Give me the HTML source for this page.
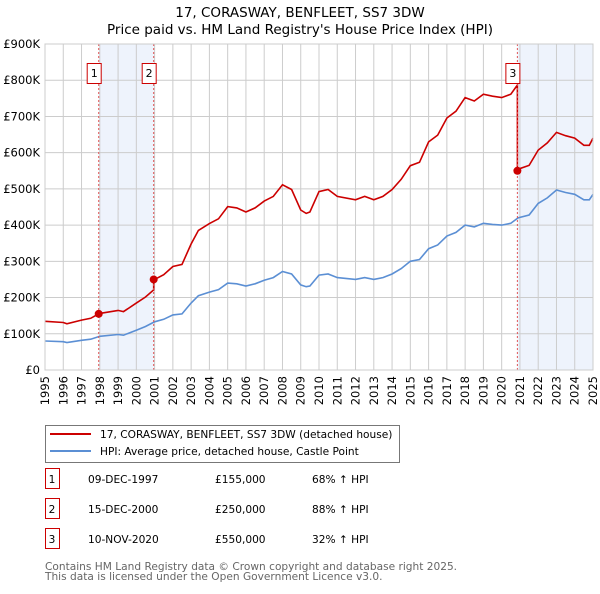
<!DOCTYPE html>
<html><head><meta charset="utf-8"><style>
body{margin:0;background:#fff;font-family:"DejaVu Sans","Liberation Sans",sans-serif;}
svg text{font-family:"DejaVu Sans","Liberation Sans",sans-serif;}
</style></head><body>
<svg id="chart" width="600" height="590" viewBox="0 0 600 590" xmlns="http://www.w3.org/2000/svg">
<text x="300" y="17" text-anchor="middle" font-size="13.5">17, CORASWAY, BENFLEET, SS7 3DW</text>
<text x="300" y="34" text-anchor="middle" font-size="13.5">Price paid vs. HM Land Registry's House Price Index (HPI)</text>
<g id="plot"></g>
<g>
<rect x="45.5" y="425.5" width="354" height="37" fill="#fff" stroke="#777"/>
<line x1="50" y1="434" x2="91" y2="434" stroke="#cc0000" stroke-width="2"/>
<text x="100" y="438" font-size="10.6">17, CORASWAY, BENFLEET, SS7 3DW (detached house)</text>
<line x1="50" y1="451" x2="91" y2="451" stroke="#5b8fd4" stroke-width="2"/>
<text x="100" y="455" font-size="10.6">HPI: Average price, detached house, Castle Point</text>
</g>
<g id="table" font-size="10.6"></g>
<text x="45" y="570" font-size="10.6" fill="#666">Contains HM Land Registry data © Crown copyright and database right 2025.</text>
<text x="45" y="580" font-size="10.6" fill="#666">This data is licensed under the Open Government Licence v3.0.</text>
</svg>
<script>
const hpiYears=[1995,1996,1996.2,1997,1997.5,1998,1999,1999.3,2000,2000.5,2001,2001.5,2002,2002.5,2003,2003.4,2004,2004.5,2005,2005.5,2006,2006.5,2007,2007.5,2008,2008.5,2009,2009.3,2009.5,2010,2010.5,2011,2012,2012.5,2013,2013.5,2014,2014.5,2015,2015.5,2016,2016.5,2017,2017.5,2018,2018.5,2019,2019.5,2020,2020.5,2020.9,2021.5,2022,2022.5,2023,2023.5,2024,2024.5,2024.8,2025];
const hpiValues=[80,78,76,82,85,93,98,96,110,120,133,140,152,155,185,205,215,222,240,238,232,238,248,255,272,265,235,230,232,262,265,255,250,255,250,255,265,280,300,305,335,345,370,380,400,395,405,402,400,405,420,428,460,475,497,490,485,470,470,485];
const saleDates=[1997.94,2000.95,2020.86];
const salePrices=[155,250,550];
const saleRatios=[1.68,1.88,1.32];
const saleLabels=["1","2","3"];
const saleDateText=["09-DEC-1997","15-DEC-2000","10-NOV-2020"];
const salePriceText=["£155,000","£250,000","£550,000"];
const saleHpiText=["68% ↑ HPI","88% ↑ HPI","32% ↑ HPI"];
const yTicks=[0,100,200,300,400,500,600,700,800,900];
const yTickLabels=["£0","£100K","£200K","£300K","£400K","£500K","£600K","£700K","£800K","£900K"];
const xTicks=[1995,1996,1997,1998,1999,2000,2001,2002,2003,2004,2005,2006,2007,2008,2009,2010,2011,2012,2013,2014,2015,2016,2017,2018,2019,2020,2021,2022,2023,2024,2025];

const X0=45,X1=593,Y0=370,Y1=44;
const xs=t=>X0+(t-1995)/(2025-1995)*(X1-X0);
const ys=v=>Y0-v/900*(Y0-Y1);
const NS="http://www.w3.org/2000/svg";
const plot=document.getElementById('plot');
function mk(tag,attrs,parent){const e=document.createElementNS(NS,tag);for(const k in attrs)e.setAttribute(k,attrs[k]);(parent||plot).appendChild(e);return e;}

let e;
e=mk('rect',{x:X0,y:Y1,width:X1-X0,height:Y0-Y1,fill:'#fff'});


e=mk('rect',{x:xs(saleDates[0]),y:Y1,width:xs(saleDates[1])-xs(saleDates[0]),height:Y0-Y1,fill:'#eef3fc'});


e=mk('rect',{x:xs(saleDates[2]),y:Y1,width:X1-xs(saleDates[2]),height:Y0-Y1,fill:'#eef3fc'});


yTicks.forEach((v,i)=>{
  e=mk('line',{x1:X0,x2:X1,y1:ys(v),y2:ys(v),stroke:'#cccccc','stroke-width':1});
  
  
  e=mk('text',{x:40,y:ys(v)+4,'text-anchor':'end','font-size':11.5});
  e.textContent=yTickLabels[i];
  
  
});
xTicks.forEach(t=>{
  e=mk('line',{x1:xs(t),x2:xs(t),y1:Y1,y2:Y0,stroke:'#cccccc','stroke-width':1});
  
  
  e=mk('text',{x:0,y:0,'text-anchor':'end','font-size':11.5,transform:`translate(${xs(t)+4},${Y0+6}) rotate(-90)`});
  e.textContent=t;
  
  
});
let d=hpiYears.map((t,i)=>(i?'L':'M')+xs(t).toFixed(1)+','+ys(hpiValues[i]).toFixed(1)).join('');
e=mk('path',{d:d,fill:'none',stroke:'#5b8fd4','stroke-width':1.6});


function hpiAt(t){for(let i=1;i<hpiYears.length;i++){if(t<=hpiYears[i]){const f=(t-hpiYears[i-1])/(hpiYears[i]-hpiYears[i-1]);return hpiValues[i-1]+f*(hpiValues[i]-hpiValues[i-1]);}}return hpiValues[hpiValues.length-1];}
function ratioFor(t){if(t<saleDates[1])return saleRatios[0];if(t<saleDates[2])return saleRatios[1];return saleRatios[2];}
let pts=[];
const allT=hpiYears.concat(saleDates).sort((a,b)=>a-b);
allT.forEach(t=>{
  const si=saleDates.indexOf(t);
  if(si>0){pts.push([t,hpiAt(t)*saleRatios[si-1]]);pts.push([t,salePrices[si]]);}
  else if(si===0){pts.push([t,salePrices[0]]);}
  else pts.push([t,hpiAt(t)*ratioFor(t)]);
});
d=pts.map((p,i)=>(i?'L':'M')+xs(p[0]).toFixed(1)+','+ys(p[1]).toFixed(1)).join('');
e=mk('path',{d:d,fill:'none',stroke:'#cc0000','stroke-width':1.6});


saleDates.forEach((t,i)=>{
  e=mk('line',{x1:xs(t),x2:xs(t),y1:Y1,y2:Y0,stroke:'#e05555','stroke-width':1,'stroke-dasharray':'2,2'});
  
  
  e=mk('circle',{cx:xs(t),cy:ys(salePrices[i]),r:4,fill:'#cc0000'});
  
  
  e=mk('rect',{x:xs(t)-11.5,y:63.5,width:14,height:20,fill:'#fff',stroke:'#cc0000'});
  
  
  e=mk('text',{x:xs(t)-4.5,y:77,'text-anchor':'middle','font-size':11});
  e.textContent=saleLabels[i];
  
  
});
e=mk('rect',{x:X0,y:Y1,width:X1-X0,height:Y0-Y1,fill:'none',stroke:'#cccccc'});


const tbl=document.getElementById('table');
saleLabels.forEach((l,i)=>{
  const y=483+i*30;
  const g=mk('g',{},tbl);
  
  
  mk('rect',{x:45.5,y:y-14.5,width:14,height:20,fill:'#fff',stroke:'#cc0000'},g);
  const cells=[[52,l,'middle'],[88,saleDateText[i],'start'],[215,salePriceText[i],'start'],[312,saleHpiText[i],'start']];
  cells.forEach(c=>{const t=mk('text',{x:c[0],y:y,'text-anchor':c[2]},g);t.textContent=c[1];});
});
</script>
</body></html>
